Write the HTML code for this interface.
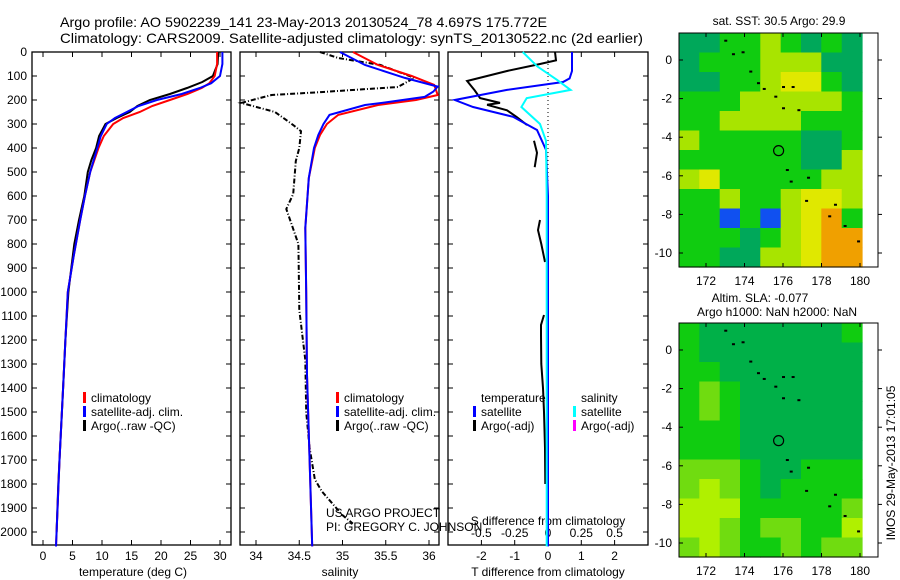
<!DOCTYPE html>
<html><head><meta charset="utf-8"><style>
html,body{margin:0;padding:0;background:#fff}
svg{display:block;font-family:"Liberation Sans",sans-serif}
text{fill:#000}
</style></head><body>
<svg id="fig" width="900" height="580" viewBox="0 0 900 580" xmlns="http://www.w3.org/2000/svg">
<text x="60" y="27" font-size="14" textLength="487" lengthAdjust="spacingAndGlyphs">Argo profile: AO 5902239_141 23-May-2013 20130524_78 4.697S 175.772E</text>
<text x="60" y="43" font-size="14" textLength="583" lengthAdjust="spacingAndGlyphs">Climatology: CARS2009. Satellite-adjusted climatology: synTS_20130522.nc (2d earlier)</text>
<g id="g1"></g>
<g id="g2"></g>
<g id="g3"></g>
<g id="m1"></g>
<g id="m2"></g>
<text x="326" y="517" font-size="12">US ARGO PROJECT</text>
<text x="326" y="531" font-size="12">PI: GREGORY C. JOHNSON</text>
<text x="0" y="0" font-size="12" text-anchor="middle" transform="translate(895,463) rotate(-90)">IMOS 29-May-2013 17:01:05</text>
</svg>
<script>
// ---- data ----
const depthTicks=[0,100,200,300,400,500,600,700,800,900,1000,1100,1200,1300,1400,1500,1600,1700,1800,1900,2000];
const tTicks=[0,5,10,15,20,25,30];
const sTicks=[34,34.5,35,35.5,36];
const dTTicks=[-2,-1,0,1,2];
const dSTicks=[-0.5,-0.25,0,0.25,0.5];
const dSTickLabels=["-0.5","-0.25","0","0.25","0.5"];
// temperature profiles
const tClimDepth=[0,50,100,130,150,175,200,225,250,275,300,350,400,500,600,700,850,1000,1200,1400,1700,2060];
const tClim=[29.5,29.5,29.1,28.2,26.9,24.5,21.5,18.5,16.4,13.6,11.9,10.3,9.4,8.0,7.1,6.3,5.2,4.2,3.8,3.4,2.8,2.2];
const tSatDepth=[0,50,100,130,150,175,200,225,250,275,300,350,400,500,600,700,850,1000,1200,1400,1700,2060];
const tSat=[30.4,30.4,30.0,28.5,26.6,23.5,19.3,16.2,14.2,12.2,10.8,9.8,9.2,8.0,7.1,6.3,5.2,4.2,3.8,3.4,2.8,2.2];
const tArgoDepth=[0,50,100,125,150,175,200,225,250,275,300,350,400,450,500,600,700,800,900,1000,1200,1400,1600,1800,2000];
const tArgo=[29.7,29.6,28.8,27.0,24.4,21.5,18.1,16.0,14.7,12.5,10.6,9.5,9.0,8.2,7.6,7.0,6.1,5.3,4.8,4.3,3.8,3.4,3.0,2.6,2.3];
// salinity profiles
const sClimDepth=[0,54,100,137,179,200,221,262,300,346,400,525,733,1000,1346,1700,2060];
const sClim=[35.12,35.41,35.80,36.06,36.10,35.85,35.41,34.95,34.82,34.74,34.68,34.61,34.57,34.58,34.59,34.62,34.65];
const sSatDepth=[0,54,108,144,165,187,210,221,262,300,346,400,525,733,1000,1346,1700,2060];
const sSat=[34.97,35.26,35.72,36.10,36.05,35.95,35.50,35.26,34.85,34.78,34.72,34.67,34.61,34.57,34.58,34.59,34.62,34.65];
const sArgoDepth=[0,25,54,108,146,167,179,212,250,304,330,400,454,592,654,800,1075,1283,1500,1650,1780,1830,1880,1930,1965];
const sArgo=[34.74,34.95,35.44,35.83,35.64,34.75,34.18,33.83,34.22,34.43,34.52,34.50,34.46,34.43,34.35,34.49,34.50,34.57,34.58,34.62,34.68,34.76,34.88,35.0,35.12];
// differences
const dTSatDepth=[0,79,110,125,158,200,229,270,325,408,600,1000,1500,2060];
const dTSat=[0.72,0.72,0.65,0.45,-1.23,-2.8,-2.25,-1.05,-0.33,-0.06,0,0,0,0];
const dTArgoDepth=[0,35,50,79,121,160,192,212,220,243,270,304];
const dTArgo=[0.21,0.24,-0.24,-1.23,-2.43,-2.2,-2.04,-1.44,-1.83,-1.23,-0.95,-0.63];
const dTArgo2Depth=[370,420,480];
const dTArgo2=[-0.42,-0.33,-0.40];
const dTArgo3Depth=[700,742,800,875];
const dTArgo3=[-0.24,-0.30,-0.2,-0.09];
const dTArgo4Depth=[1096,1137,1180,1300,1400,1500,1650,1800];
const dTArgo4=[-0.12,-0.21,-0.21,-0.2,-0.15,-0.12,-0.09,-0.08];
const dSSatDepth=[0,60,117,158,192,229,300,370,600,1000,1500,2060];
const dSSat=[-0.19,-0.08,0.07,0.17,-0.16,-0.2,-0.06,-0.015,-0.01,-0.01,-0.01,-0.01];
// maps (coarse cell levels, rows from north to south)
const lonTicks=[172,174,176,178,180];
const latTicks=[0,-2,-4,-6,-8,-10];
const sstGrid=["001121010","011122200","001123310","111222221","112222111","211111001","111111002","231111122","112112332","115152341","111012344","110022344"];
const slaGrid=["100000001","100000000","110000000","121000000","121000000","111000000","111000000","222100111","232101111","333111112","332122113","232112122"];
const argoLon=175.772, argoLat=-4.697;
const islandLon=[173.0,173.4,173.9,174.3,174.7,175.0,175.6,176.0,176.5,176.0,176.8,176.2,176.4,177.3,177.2,178.4,178.7,179.2,179.9];
const islandLat=[1.0,0.3,0.4,-0.6,-1.2,-1.5,-1.9,-1.4,-1.4,-2.5,-2.6,-5.7,-6.3,-6.1,-7.3,-8.1,-7.5,-8.6,-9.4];

// ---- helpers ----
const NS="http://www.w3.org/2000/svg";
function mk(parent,tag,attrs){const e=document.createElementNS(NS,tag);for(const k in attrs)e.setAttribute(k,attrs[k]);parent.appendChild(e);return e;}
const Y0=52,PXD=0.24;
function yD(d){return Y0+d*PXD;}
const BOT=545;

function panelFrame(g,x0,x1,name){
  const r=mk(g,'rect',{x:x0,y:Y0,width:x1-x0,height:BOT-Y0,fill:'none',stroke:'#000','stroke-width':1.3});
  
  
  depthTicks.forEach(d=>{
    const y=yD(d);
    mk(g,'line',{x1:x0,x2:x0+5,y1:y,y2:y,stroke:'#000'});
    mk(g,'line',{x1:x1-5,x2:x1,y1:y,y2:y,stroke:'#000'});
  });
}
function xTicks(g,vals,fx,labels,ly,top){
  vals.forEach((v,i)=>{
    const x=fx(v);
    mk(g,'line',{x1:x,x2:x,y1:BOT,y2:BOT-5,stroke:'#000'});
    if(top)mk(g,'line',{x1:x,x2:x,y1:Y0,y2:Y0+5,stroke:'#000'});
    const t=mk(g,'text',{x:x,y:ly,'font-size':12,'text-anchor':'middle'});
    t.textContent=labels?labels[i]:String(v);
    
    
  });
}
function line(g,vals,depths,fx,color,w,dash,name){
  const pts=vals.map((v,i)=>fx(v).toFixed(1)+','+yD(depths[i]).toFixed(1)).join(' ');
  const p=mk(g,'polyline',{points:pts,fill:'none',stroke:color,'stroke-width':w});
  if(dash)p.setAttribute('stroke-dasharray',dash);
  
  
}
function label(g,x,y,txt,anchor,name,size){
  const t=mk(g,'text',{x:x,y:y,'font-size':size||12,'text-anchor':anchor||'start'});
  t.textContent=txt;
  
  
  return t;
}
function legendMark(g,x,y,color,name){
  const r=mk(g,'rect',{x:x,y:y-10,width:3,height:11,fill:color});
  
  
}

// ---- panel 1 temperature ----
const g1=document.getElementById('g1');
const fT=v=>43+v*5.9;
panelFrame(g1,32,231,'temperature-axes');
depthTicks.forEach(d=>label(g1,27,yD(d)+4,String(d),'end','y-tick-label'));
xTicks(g1,tTicks,fT,null,560,true);
label(g1,133,576,'temperature (deg C)','middle','x-axis-title-temperature');
line(g1,tArgo,tArgoDepth,fT,'#000',2,null,'argo-temperature-line');
line(g1,tClim,tClimDepth,fT,'#f00',2,null,'climatology-temperature-line');
line(g1,tSat,tSatDepth,fT,'#00f',2,null,'satellite-temperature-line');
legendMark(g1,83,402,'#f00','legend-climatology-mark');
label(g1,91,402,'climatology','start','legend-climatology');
legendMark(g1,83,416,'#00f','legend-satellite-mark');
label(g1,91,416,'satellite-adj. clim.','start','legend-satellite-adj');
legendMark(g1,83,430,'#000','legend-argo-mark');
label(g1,91,430,'Argo(..raw -QC)','start','legend-argo');

// ---- panel 2 salinity ----
const g2=document.getElementById('g2');
const fS=v=>256+(v-34)*86.5;
panelFrame(g2,240,439,'salinity-axes');
xTicks(g2,sTicks,fS,null,560,true);
label(g2,340,576,'salinity','middle','x-axis-title-salinity');
line(g2,sArgo,sArgoDepth,fS,'#000',2,'5 2 1 2','argo-salinity-line');
line(g2,sClim,sClimDepth,fS,'#f00',2,null,'climatology-salinity-line');
line(g2,sSat,sSatDepth,fS,'#00f',2,null,'satellite-salinity-line');
legendMark(g2,336,402,'#f00','legend-climatology-mark');
label(g2,344,402,'climatology','start','legend-climatology');
legendMark(g2,336,416,'#00f','legend-satellite-mark');
label(g2,344,416,'satellite-adj. clim.','start','legend-satellite-adj');
legendMark(g2,336,430,'#000','legend-argo-mark');
label(g2,344,430,'Argo(..raw -QC)','start','legend-argo');

// ---- panel 3 differences ----
const g3=document.getElementById('g3');
const fDT=v=>548+v*33.3;
const fDS=v=>548+v*133.2;
panelFrame(g3,448,648,'difference-axes');
xTicks(g3,dTTicks,fDT,null,560,true);
dSTicks.forEach((v,i)=>label(g3,fDS(v),537,dSTickLabels[i],'middle','s-tick-label'));
label(g3,548,525,'S difference from climatology','middle','s-axis-title');
label(g3,548,576,'T difference from climatology','middle','t-axis-title');
const zl=mk(g3,'line',{x1:548,x2:548,y1:Y0,y2:BOT,stroke:'#000','stroke-dasharray':'1 3'});


line(g3,dTArgo,dTArgoDepth,fDT,'#000',2,null,'argo-t-diff-line');
line(g3,dTArgo2,dTArgo2Depth,fDT,'#000',2,null,'argo-t-diff-line-2');
line(g3,dTArgo3,dTArgo3Depth,fDT,'#000',2,null,'argo-t-diff-line-3');
line(g3,dTArgo4,dTArgo4Depth,fDT,'#000',2,null,'argo-t-diff-line-4');
line(g3,dTSat,dTSatDepth,fDT,'#00f',2,null,'satellite-t-diff-line');
line(g3,dSSat,dSSatDepth,fDS,'#0ff',2,null,'satellite-s-diff-line');
label(g3,481,402,'temperature','start','legend-temperature-header');
legendMark(g3,473,416,'#00f','legend-t-satellite-mark');
label(g3,481,416,'satellite','start','legend-t-satellite');
legendMark(g3,473,430,'#000','legend-t-argo-mark');
label(g3,481,430,'Argo(-adj)','start','legend-t-argo');
label(g3,581,402,'salinity','start','legend-salinity-header');
legendMark(g3,573,416,'#0ff','legend-s-satellite-mark');
label(g3,581,416,'satellite','start','legend-s-satellite');
legendMark(g3,573,430,'#f0f','legend-s-argo-mark');
label(g3,581,430,'Argo(-adj)','start','legend-s-argo');

// ---- maps ----
function drawMap(g,top,bottom,lat0y,grid,palette,titles){
  const left=679,right=878;
  const fx=lon=>706+(lon-172)*19.25;
  const fy=lat=>lat0y-lat*19.3;
  const dataR=862;
  const rows=grid.length, cols=grid[0].length;
  const cw=(dataR-left)/cols, ch=(bottom-top)/rows;
  grid.forEach((row,r)=>{
    for(let c=0;c<cols;c++){
      const cell=mk(g,'rect',{x:(left+c*cw).toFixed(1),y:(top+r*ch).toFixed(1),width:(cw+0.6).toFixed(1),height:(ch+0.6).toFixed(1),fill:palette[+row[c]]});
      
      
    }
  });
  islandLon.forEach((lon,i)=>{
    const d=mk(g,'rect',{x:fx(lon)-1,y:fy(islandLat[i])-1,width:3,height:2,fill:'#000'});
    
    
  });
  const c=mk(g,'circle',{cx:fx(argoLon),cy:fy(argoLat),r:5,fill:'none',stroke:'#000','stroke-width':1.2});
  
  
  const fr=mk(g,'rect',{x:left,y:top,width:right-left,height:bottom-top,fill:'none',stroke:'#000','stroke-width':1});
  
  
  lonTicks.forEach(v=>{
    const x=fx(v);
    mk(g,'line',{x1:x,x2:x,y1:top,y2:top+4,stroke:'#000'});
    mk(g,'line',{x1:x,x2:x,y1:bottom,y2:bottom-4,stroke:'#000'});
    label(g,x,bottom+18,String(v),'middle','lon-tick-label');
  });
  latTicks.forEach(v=>{
    const y=fy(v);
    mk(g,'line',{x1:left,x2:left+4,y1:y,y2:y,stroke:'#000'});
    mk(g,'line',{x1:right,x2:right+4,y1:y,y2:y,stroke:'#000'});
    label(g,672,y+4,String(v),'end','lat-tick-label');
  });
  titles.forEach(t=>label(g,t[0],t[1],t[2],'middle','map-title'));
}
drawMap(document.getElementById('m1'),33,267,60,sstGrid,['#00a85a','#10cc10','#a8e400','#e0e800','#f0a000','#1050f0'],[[779,25,'sat. SST: 30.5 Argo: 29.9']]);
drawMap(document.getElementById('m2'),323,557,350,slaGrid,['#00b048','#10cc10','#70dc10','#b0f000'],[[760,302,'Altim. SLA: -0.077'],[777,316,'Argo h1000: NaN h2000: NaN']]);
</script>
</body></html>
